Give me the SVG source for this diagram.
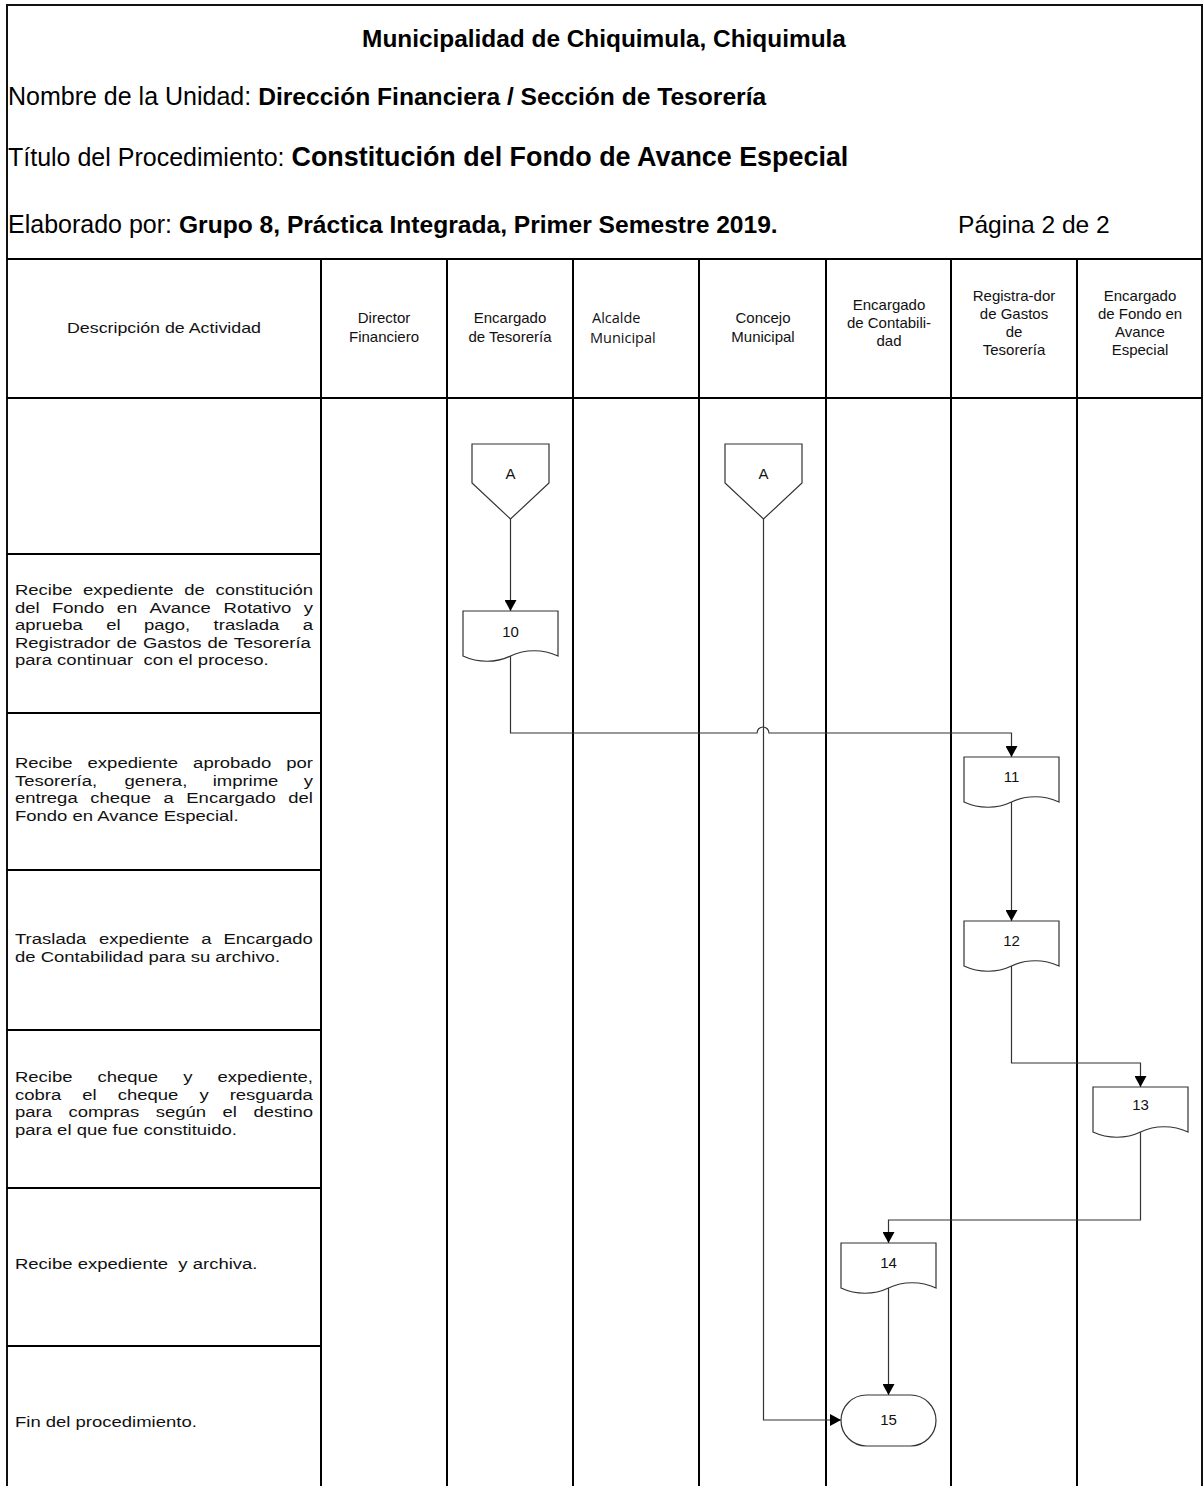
<svg xmlns="http://www.w3.org/2000/svg" width="1204" height="1486" viewBox="0 0 1204 1486">
  <style>
    .frame { stroke: #111; stroke-width: 2; fill: none; }
    .lane { stroke: #000; stroke-width: 2; fill: none; }
    .conn { stroke: #333; stroke-width: 1.2; fill: none; }
    .shape { stroke: #333; stroke-width: 1.2; fill: #fff; }
    .hdr { font-family: "Liberation Sans", Arial, sans-serif; font-size: 25px; fill: #000; }
    .b { font-weight: bold; font-size: 24.6px; }
    .col { font-family: "Liberation Sans", Arial, sans-serif; font-size: 15px; fill: #111; text-anchor: middle; }
    .colc { font-family: "Open Sans", "Noto Sans", sans-serif; font-size: 14.5px; fill: #111; }
    .desc { font-family: "Liberation Sans", Arial, sans-serif; font-size: 15.5px; fill: #111; }
    .lbl { font-family: "Liberation Sans", Arial, sans-serif; font-size: 15px; fill: #111; text-anchor: middle; }
  </style>
  <defs>
    <marker id="arrow" markerUnits="userSpaceOnUse" markerWidth="12" markerHeight="12" refX="11" refY="6" orient="auto">
      <path d="M0,0 L11,6 L0,12 Z" fill="#000"/>
    </marker>
    <!-- document symbol, 95 wide, wavy bottom -->
    <path id="doc" d="M0,0 H95 V45 C80,38 62,38 47.5,45 C33,52 15,52 0,45 Z"/>
    <!-- off-page connector -->
    <path id="offpage" d="M0,0 H77 V39 L38.5,75 L0,39 Z"/>
  </defs>

  <rect x="0" y="0" width="1204" height="1486" fill="#fff"/>

  <!-- header block -->
  <g id="header">
    <text class="hdr b" x="604" y="47" text-anchor="middle" style="font-size:24.4px">Municipalidad de Chiquimula, Chiquimula</text>
    <text class="hdr" x="8" y="105">Nombre de la Unidad: <tspan class="b">Dirección Financiera / Sección de Tesorería</tspan></text>
    <text class="hdr" x="8" y="166">Título del Procedimiento: <tspan class="b" style="font-size:26.9px">Constitución del Fondo de Avance Especial</tspan></text>
    <text class="hdr" x="8" y="233">Elaborado por: <tspan class="b">Grupo 8, Práctica Integrada, Primer Semestre 2019.</tspan></text>
    <text class="hdr" x="958" y="233" style="font-size:24.6px">Página 2 de 2</text>
  </g>

  <!-- table frame and lanes -->
  <g id="table">
    <path class="frame" d="M7,1486 V5 H1202 V1486"/>
    <line class="lane" x1="7" y1="259" x2="1202" y2="259"/>
    <line class="lane" x1="7" y1="398" x2="1202" y2="398"/>
    <line class="lane" x1="321" y1="259" x2="321" y2="1486"/>
    <line class="lane" x1="447" y1="259" x2="447" y2="1486"/>
    <line class="lane" x1="573" y1="259" x2="573" y2="1486"/>
    <line class="lane" x1="699" y1="259" x2="699" y2="1486"/>
    <line class="lane" x1="826" y1="259" x2="826" y2="1486"/>
    <line class="lane" x1="951" y1="259" x2="951" y2="1486"/>
    <line class="lane" x1="1077" y1="259" x2="1077" y2="1486"/>
    <line class="lane" x1="7" y1="554" x2="321" y2="554"/>
    <line class="lane" x1="7" y1="713" x2="321" y2="713"/>
    <line class="lane" x1="7" y1="870" x2="321" y2="870"/>
    <line class="lane" x1="7" y1="1030" x2="321" y2="1030"/>
    <line class="lane" x1="7" y1="1188" x2="321" y2="1188"/>
    <line class="lane" x1="7" y1="1346" x2="321" y2="1346"/>
  </g>

  <!-- column titles -->
  <g id="columns">
    <text class="col" x="164" y="332.5" textLength="194" lengthAdjust="spacingAndGlyphs">Descripción de Actividad</text>
    <text class="col" x="384" y="323">Director<tspan x="384" dy="19">Financiero</tspan></text>
    <text class="col" x="510" y="323">Encargado<tspan x="510" dy="19">de Tesorería</tspan></text>
    <text class="colc" x="592" y="323">Alcalde<tspan x="590" dy="20">Municipal</tspan></text>
    <text class="col" x="763" y="323">Concejo<tspan x="763" dy="19">Municipal</tspan></text>
    <text class="col" x="889" y="310">Encargado<tspan x="889" dy="18">de Contabili-</tspan><tspan x="889" dy="18">dad</tspan></text>
    <text class="col" x="1014" y="301">Registra-dor<tspan x="1014" dy="18">de Gastos</tspan><tspan x="1014" dy="18">de</tspan><tspan x="1014" dy="18">Tesorería</tspan></text>
    <text class="col" x="1140" y="301">Encargado<tspan x="1140" dy="18">de Fondo en</tspan><tspan x="1140" dy="18">Avance</tspan><tspan x="1140" dy="18">Especial</tspan></text>
  </g>

  <!-- activity descriptions: wide-set text, justified lines place each word -->
  <g id="descriptions" transform="translate(15 0) scale(1.1935 1)">
    <text class="desc" y="595.5"><tspan x="0">Recibe</tspan><tspan x="57.06">expediente</tspan><tspan x="141.77">de</tspan><tspan x="167.91">constitución</tspan></text>
    <text class="desc" y="613"><tspan x="0">del</tspan><tspan x="31">Fondo</tspan><tspan x="85.21">en</tspan><tspan x="112.78">Avance</tspan><tspan x="174.78">Rotativo</tspan><tspan x="241.98">y</tspan></text>
    <text class="desc" y="630.5"><tspan x="0">aprueba</tspan><tspan x="76.41">el</tspan><tspan x="108.09">pago,</tspan><tspan x="166.4">traslada</tspan><tspan x="241.06">a</tspan></text>
    <text class="desc" y="648"><tspan x="0">Registrador</tspan><tspan x="85.04">de</tspan><tspan x="107.16">Gastos</tspan><tspan x="161.21">de</tspan><tspan x="183.33">Tesorería</tspan></text>
    <text class="desc" x="0" y="665.5" xml:space="preserve">para continuar  con el proceso.</text>

    <text class="desc" y="768.5"><tspan x="0">Recibe</tspan><tspan x="60.83">expediente</tspan><tspan x="149.23">aprobado</tspan><tspan x="227.31">por</tspan></text>
    <text class="desc" y="786"><tspan x="0">Tesorería,</tspan><tspan x="91.83">genera,</tspan><tspan x="165.65">imprime</tspan><tspan x="241.98">y</tspan></text>
    <text class="desc" y="803.5"><tspan x="0">entrega</tspan><tspan x="63.09">cheque</tspan><tspan x="124.42">a</tspan><tspan x="143.53">Encargado</tspan><tspan x="228.99">del</tspan></text>
    <text class="desc" x="0" y="821">Fondo en Avance Especial.</text>

    <text class="desc" y="944.5"><tspan x="0">Traslada</tspan><tspan x="70.3">expediente</tspan><tspan x="156.1">a</tspan><tspan x="174.7">Encargado</tspan></text>
    <text class="desc" x="0" y="962">de Contabilidad para su archivo.</text>

    <text class="desc" y="1082.5"><tspan x="0">Recibe</tspan><tspan x="69.12">cheque</tspan><tspan x="140.93">y</tspan><tspan x="169.58">expediente,</tspan></text>
    <text class="desc" y="1100"><tspan x="0">cobra</tspan><tspan x="56.39">el</tspan><tspan x="86.05">cheque</tspan><tspan x="154.5">y</tspan><tspan x="179.89">resguarda</tspan></text>
    <text class="desc" y="1117.5"><tspan x="0">para</tspan><tspan x="44.74">compras</tspan><tspan x="117.97">según</tspan><tspan x="173.94">el</tspan><tspan x="199.75">destino</tspan></text>
    <text class="desc" x="0" y="1135">para el que fue constituido.</text>

    <text class="desc" x="0" y="1269.5" xml:space="preserve">Recibe expediente  y archiva.</text>

    <text class="desc" x="0" y="1427.5">Fin del procedimiento.</text>
  </g>

  <!-- connectors -->
  <g id="connectors">
    <path class="conn" d="M510.5,519 V611" marker-end="url(#arrow)"/>
    <path class="conn" d="M510.5,654 V733 H757 A6,6 0 0 1 769,733 H1011.5 V757" marker-end="url(#arrow)"/>
    <path class="conn" d="M1011.5,800 V921" marker-end="url(#arrow)"/>
    <path class="conn" d="M1011.5,964 V1063 H1140.5 V1087" marker-end="url(#arrow)"/>
    <path class="conn" d="M1140.5,1127 V1220 H888.5 V1243" marker-end="url(#arrow)"/>
    <path class="conn" d="M888.5,1286 V1395" marker-end="url(#arrow)"/>
    <path class="conn" d="M763.5,519 V1420 H841" marker-end="url(#arrow)"/>
  </g>

  <!-- nodes -->
  <g id="node-A1">
    <use href="#offpage" class="shape" x="472" y="444"/>
    <text class="lbl" x="510.5" y="479">A</text>
  </g>
  <g id="node-A2">
    <use href="#offpage" class="shape" x="725" y="444"/>
    <text class="lbl" x="763.5" y="479">A</text>
  </g>
  <g id="node-10">
    <use href="#doc" class="shape" x="463" y="611"/>
    <text class="lbl" x="510.5" y="637">10</text>
  </g>
  <g id="node-11">
    <use href="#doc" class="shape" x="964" y="757"/>
    <text class="lbl" x="1011.5" y="782">11</text>
  </g>
  <g id="node-12">
    <use href="#doc" class="shape" x="964" y="921"/>
    <text class="lbl" x="1011.5" y="946">12</text>
  </g>
  <g id="node-13">
    <use href="#doc" class="shape" x="1093" y="1087"/>
    <text class="lbl" x="1140.5" y="1110">13</text>
  </g>
  <g id="node-14">
    <use href="#doc" class="shape" x="841" y="1243"/>
    <text class="lbl" x="888.5" y="1268">14</text>
  </g>
  <g id="node-15">
    <rect class="shape" x="841" y="1395" width="95" height="51" rx="25.5"/>
    <text class="lbl" x="888.5" y="1425">15</text>
  </g>
</svg>
